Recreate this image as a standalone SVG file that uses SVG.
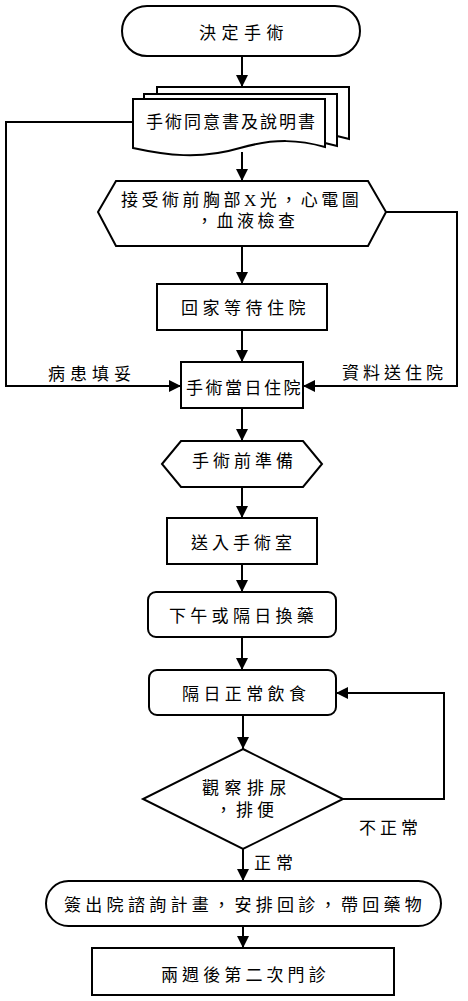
<svg xmlns="http://www.w3.org/2000/svg" width="468" height="1001" viewBox="0 0 468 1001">
<defs>
<marker id="arr" viewBox="0 0 12 12" refX="12" refY="6" markerWidth="12" markerHeight="12" markerUnits="userSpaceOnUse" orient="auto">
<path d="M0,0 L12,6 L0,12 Z" fill="#000"/>
</marker>
</defs>
<style>
.s{fill:#fff;stroke:#000;stroke-width:2}
.l{fill:none;stroke:#000;stroke-width:2}
text{font-family:"Liberation Serif","Noto Sans CJK TC",serif;font-size:17px;fill:#000}
</style>
<rect width="468" height="1001" fill="#fff"/>
<g id="connectors">
<path class="l" d="M242,56 V87" marker-end="url(#arr)"/>
<path class="l" d="M242,152 V181" marker-end="url(#arr)"/>
<path class="l" d="M242,246 V284" marker-end="url(#arr)"/>
<path class="l" d="M242,330 V362" marker-end="url(#arr)"/>
<path class="l" d="M133,122 H6 V386 H181" marker-end="url(#arr)"/>
<path class="l" d="M386,212 H457 V386 H303" marker-end="url(#arr)"/>
<path class="l" d="M242,408 V441" marker-end="url(#arr)"/>
<path class="l" d="M242,487 V518" marker-end="url(#arr)"/>
<path class="l" d="M242,564 V592" marker-end="url(#arr)"/>
<path class="l" d="M242,637 V670" marker-end="url(#arr)"/>
<path class="l" d="M243,715 V749" marker-end="url(#arr)"/>
<path class="l" d="M343,799 H444 V693 H336" marker-end="url(#arr)"/>
<path class="l" d="M243,849 V881" marker-end="url(#arr)"/>
<path class="l" d="M243,926 V948" marker-end="url(#arr)"/>
<text x="48" y="380" letter-spacing="5">病患填妥</text>
<text x="342" y="379" letter-spacing="4">資料送住院</text>
<text x="359" y="834" letter-spacing="4">不正常</text>
<text x="254" y="869" letter-spacing="5">正常</text>
</g>
<g id="start">
<rect class="s" x="122" y="6" width="238" height="50" rx="25"/>
<text x="199" y="39" letter-spacing="5.5">決定手術</text>
</g>
<g id="consent">
<path class="s" d="M157,94 V87 H349 V139 L337,136"/>
<path class="s" d="M144,99 V94 H337 V146 L325,143"/>
<path class="s" d="M133,99 H325 V147 C300,140 275,138 240,148 C200,160 165,155 133,148 Z"/>
<text x="146" y="128" letter-spacing="2">手術同意書及說明書</text>
</g>
<g id="preop-exam">
<path class="s" d="M98,212 L116,181 H368 L386,212 L368,246 H116 Z"/>
<text x="121" y="206" letter-spacing="3.5">接受術前胸部X光，心電圖</text>
<text x="196" y="227" letter-spacing="3.5">，血液檢查</text>
</g>
<g id="home-wait">
<rect class="s" x="157" y="284" width="170" height="46"/>
<text x="181" y="314" letter-spacing="4.5">回家等待住院</text>
</g>
<g id="admission">
<rect class="s" x="181" y="362" width="122" height="46"/>
<text x="186" y="394" letter-spacing="2.5">手術當日住院</text>
</g>
<g id="preparation">
<path class="s" d="M162,464 L181,441 H303 L322,464 L303,487 H181 Z"/>
<text x="192" y="467" letter-spacing="4">手術前準備</text>
</g>
<g id="to-or">
<rect class="s" x="167" y="518" width="150" height="46"/>
<text x="191" y="549" letter-spacing="4">送入手術室</text>
</g>
<g id="dressing">
<rect class="s" x="148" y="592" width="188" height="45" rx="8"/>
<text x="169" y="622" letter-spacing="4.3">下午或隔日換藥</text>
</g>
<g id="diet">
<rect class="s" x="149" y="670" width="187" height="45" rx="8"/>
<text x="182" y="700" letter-spacing="4.4">隔日正常飲食</text>
</g>
<g id="observe">
<path class="s" d="M243,749 L343,799 L243,849 L143,799 Z"/>
<text x="202" y="794" letter-spacing="5.5">觀察排尿</text>
<text x="215" y="816" letter-spacing="4">，排便</text>
</g>
<g id="discharge">
<rect class="s" x="46" y="881" width="395" height="45" rx="22.5"/>
<text x="64" y="911" letter-spacing="4.3">簽出院諮詢計畫，安排回診，帶回藥物</text>
</g>
<g id="followup">
<rect class="s" x="92" y="948" width="302" height="47"/>
<text x="161" y="981" letter-spacing="4.1">兩週後第二次門診</text>
</g>
</svg>
